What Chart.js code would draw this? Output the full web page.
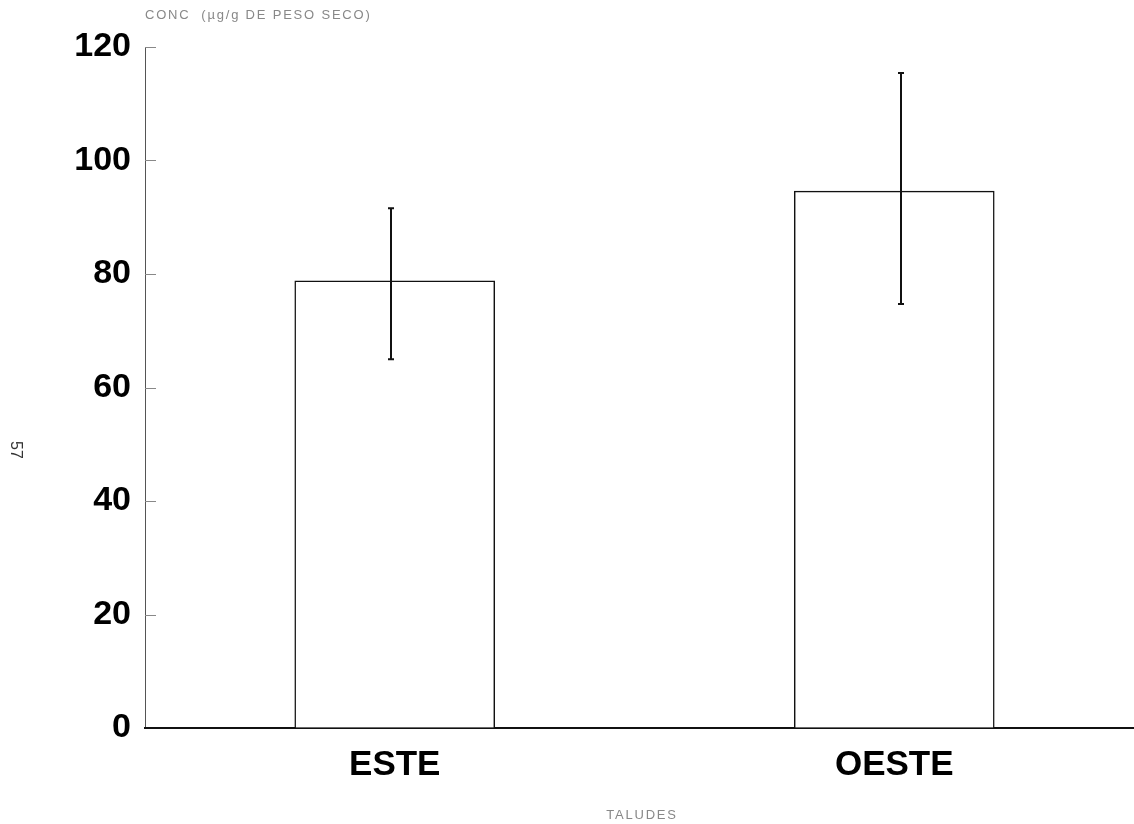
<!DOCTYPE html>
<html>
<head>
<meta charset="utf-8">
<script src="https://cdn.jsdelivr.net/npm/chart.js@4.4.1/dist/chart.umd.min.js"></script>
<style>
  html, body { margin: 0; padding: 0; background: #fff; overflow: hidden; }
  #wrap { width: 1134px; height: 824px; overflow: hidden; position: relative; }
  canvas { display: block; }
</style>
</head>
<body>
<div id="wrap"><canvas id="c" width="1144" height="824"></canvas></div>
<script>
// Concentration by slope (mean ± error)
const categories = ['ESTE', 'OESTE'];
const meanValues = [78.8, 94.6];
const errLow = [65.0, 74.7];
const errHigh = [91.6, 115.4];
const yTicks = [0, 20, 40, 60, 80, 100, 120];
const yTitle = 'CONC  (µg/g DE PESO SECO)';
const xTitle = 'TALUDES';
const pageNumber = '57';

const FONT = '"Liberation Sans", Arial, Helvetica, sans-serif';
// error whiskers sit slightly off the bar centres in the original plot
const whiskerShift = [-4, 7];

const extras = {
  id: 'extras',
  afterDatasetsDraw(chart) {
    const ctx = chart.ctx;
    const y = chart.scales.y, x = chart.scales.x;
    const area = chart.chartArea;
    ctx.save();
    // inward tick marks on the value axis
    ctx.strokeStyle = '#888';
    ctx.lineWidth = 1;
    yTicks.forEach(v => {
      if (v === 0) return;
      const py = Math.round(y.getPixelForValue(v)) + 0.5;
      ctx.beginPath();
      ctx.moveTo(area.left, py);
      ctx.lineTo(area.left + 11, py);
      ctx.stroke();
    });
    // error bars
    ctx.strokeStyle = '#111';
    ctx.lineWidth = 2;
    categories.forEach((c, i) => {
      const px = Math.round(x.getPixelForValue(i)) + whiskerShift[i];
      const top = y.getPixelForValue(errHigh[i]);
      const bot = y.getPixelForValue(errLow[i]);
      ctx.beginPath();
      ctx.moveTo(px, top); ctx.lineTo(px, bot);
      ctx.moveTo(px - 3, top); ctx.lineTo(px + 3, top);
      ctx.moveTo(px - 3, bot); ctx.lineTo(px + 3, bot);
      ctx.stroke();
    });
    // titles
    ctx.fillStyle = '#888';
    ctx.font = '13px ' + FONT;
    ctx.textBaseline = 'middle';
    ctx.textAlign = 'left';
    if ('letterSpacing' in ctx) ctx.letterSpacing = '1.8px';
    ctx.fillText(yTitle, area.left, 15);
    ctx.textAlign = 'center';
    ctx.fillText(xTitle, 642, 815);
    if ('letterSpacing' in ctx) ctx.letterSpacing = '0px';
    // page number
    ctx.fillStyle = '#333';
    ctx.font = '16px ' + FONT;
    ctx.textAlign = 'center';
    ctx.translate(15, 450);
    ctx.rotate(Math.PI / 2);
    ctx.fillText(pageNumber, 0, 0);
    ctx.restore();
  }
};

new Chart(document.getElementById('c'), {
  type: 'bar',
  data: {
    labels: categories,
    datasets: [{
      data: meanValues,
      backgroundColor: '#ffffff',
      borderColor: '#111',
      borderWidth: 1.5,
      borderSkipped: 'bottom',
      barThickness: 200
    }]
  },
  options: {
    responsive: false,
    animation: false,
    devicePixelRatio: 1,
    layout: { padding: { top: 47, right: 0, left: 0, bottom: 0 } },
    plugins: { legend: { display: false }, tooltip: { enabled: false } },
    scales: {
      y: {
        min: 0, max: 120,
        afterFit(s) { s.width = 145; },
        afterBuildTicks(s) { s.ticks = yTicks.map(v => ({ value: v })); },
        grid: { display: true, drawOnChartArea: false, drawTicks: false },
        border: { display: true, color: '#555', width: 1 },
        ticks: {
          color: '#000',
          padding: 14,
          font: { family: FONT, size: 34, weight: 'bold' }
        }
      },
      x: {
        afterFit(s) { s.height = 96; },
        grid: { display: true, drawOnChartArea: false, drawTicks: false },
        border: { display: true, color: '#111', width: 2 },
        ticks: {
          color: '#000',
          padding: 16,
          font: { family: FONT, size: 35, weight: 'bold' }
        }
      }
    }
  },
  plugins: [extras]
});
</script>
</body>
</html>
